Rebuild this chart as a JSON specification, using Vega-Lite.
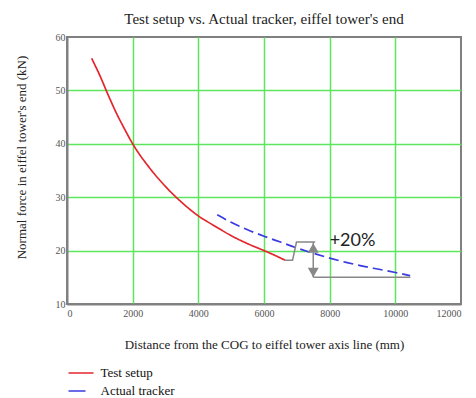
{
  "$schema": "https://vega.github.io/schema/vega-lite/v6.json",
  "autosize": "none",
  "width": 394,
  "height": 267,
  "padding": {"left": 67, "top": 37, "right": 15, "bottom": 94},
  "background": "white",
  "title": {
    "text": "Test setup vs. Actual tracker, eiffel tower's end",
    "font": "Liberation Serif",
    "fontSize": 15,
    "fontWeight": "normal",
    "color": "#222222",
    "anchor": "middle",
    "baseline": "alphabetic",
    "offset": 13,
    "dy": 20
  },
  "config": {
    "view": {"stroke": "#808080", "strokeWidth": 2},
    "axis": {
      "labelFont": "Liberation Serif",
      "labelFontSize": 10,
      "labelColor": "#555555",
      "titleFont": "Liberation Serif",
      "titleFontSize": 13,
      "titleFontWeight": "normal",
      "titleColor": "#222222",
      "domainColor": "#808080",
      "domainWidth": 2,
      "gridColor": "#5de65d",
      "gridWidth": 1.5,
      "ticks": false
    }
  },
  "datasets": {
    "curves": [
      {"series": "Test setup", "d": 750, "f": 56},
      {"series": "Test setup", "d": 1000, "f": 52.8},
      {"series": "Test setup", "d": 1250, "f": 49.2},
      {"series": "Test setup", "d": 1500, "f": 45.8},
      {"series": "Test setup", "d": 1750, "f": 42.8},
      {"series": "Test setup", "d": 2000, "f": 40},
      {"series": "Test setup", "d": 2500, "f": 35.6},
      {"series": "Test setup", "d": 3000, "f": 32},
      {"series": "Test setup", "d": 3500, "f": 29},
      {"series": "Test setup", "d": 4000, "f": 26.5},
      {"series": "Test setup", "d": 4500, "f": 24.6},
      {"series": "Test setup", "d": 5000, "f": 22.8},
      {"series": "Test setup", "d": 5500, "f": 21.3},
      {"series": "Test setup", "d": 6000, "f": 20},
      {"series": "Test setup", "d": 6300, "f": 19.2},
      {"series": "Test setup", "d": 6640, "f": 18.2},
      {"series": "Actual tracker", "d": 4575, "f": 26.7},
      {"series": "Actual tracker", "d": 5000, "f": 25.3},
      {"series": "Actual tracker", "d": 5500, "f": 23.9},
      {"series": "Actual tracker", "d": 6000, "f": 22.7},
      {"series": "Actual tracker", "d": 6500, "f": 21.6},
      {"series": "Actual tracker", "d": 7000, "f": 20.5},
      {"series": "Actual tracker", "d": 7500, "f": 19.5},
      {"series": "Actual tracker", "d": 8000, "f": 18.6},
      {"series": "Actual tracker", "d": 8500, "f": 17.8},
      {"series": "Actual tracker", "d": 9000, "f": 17.1},
      {"series": "Actual tracker", "d": 9500, "f": 16.5},
      {"series": "Actual tracker", "d": 10000, "f": 15.9},
      {"series": "Actual tracker", "d": 10450, "f": 15.3}
    ],
    "annot": [
      {"seg": "bracket", "ord": 1, "d": 6640, "f": 18.2},
      {"seg": "bracket", "ord": 2, "d": 6870, "f": 18.2},
      {"seg": "bracket", "ord": 3, "d": 6990, "f": 21.6},
      {"seg": "bracket", "ord": 4, "d": 7560, "f": 21.6},
      {"seg": "shaft", "ord": 1, "d": 7500, "f": 21.6},
      {"seg": "shaft", "ord": 2, "d": 7500, "f": 15.0},
      {"seg": "base", "ord": 1, "d": 7500, "f": 15.0},
      {"seg": "base", "ord": 2, "d": 10460, "f": 15.0}
    ],
    "heads": [
      {"end": "top", "d": 7500, "f": 20.5},
      {"end": "bottom", "d": 7500, "f": 15.9}
    ],
    "label": [
      {"text": "+20%", "d": 8000, "f": 20.8}
    ]
  },
  "layer": [
    {
      "data": {"name": "curves"},
      "mark": {"type": "line", "strokeWidth": 1.7, "interpolate": "monotone"},
      "encoding": {
        "x": {
          "field": "d",
          "type": "quantitative",
          "scale": {"domain": [0, 12000], "nice": false},
          "axis": {
            "title": "Distance from the COG to eiffel tower axis line (mm)",
            "values": [0, 2000, 4000, 6000, 8000, 10000, 12000],
            "format": "d",
            "labelPadding": 4,
            "titleY": 40,
            "titleBaseline": "middle",
            "gridOpacity": {"condition": {"test": "datum.value == 0 || datum.value == 12000", "value": 0}, "value": 1}
          }
        },
        "y": {
          "field": "f",
          "type": "quantitative",
          "scale": {"domain": [10, 60], "nice": false},
          "axis": {
            "title": "Normal force in eiffel tower's end (kN)",
            "values": [10, 20, 30, 40, 50, 60],
            "labelPadding": 2,
            "titleX": -46,
            "titleY": 120,
            "titleAngle": -90,
            "titleAlign": "center",
            "titleBaseline": "middle",
            "gridOpacity": {"condition": {"test": "datum.value == 10 || datum.value == 60", "value": 0}, "value": 1}
          }
        },
        "color": {
          "field": "series",
          "type": "nominal",
          "scale": {"domain": ["Test setup", "Actual tracker"], "range": ["#e3262b", "#3a3ae0"]},
          "legend": {
            "title": null,
            "orient": "none",
            "legendX": 7,
            "legendY": 329,
            "padding": 0,
            "symbolType": "M-2,0H2",
            "symbolSize": 156,
            "symbolStrokeWidth": 1.5,
            "labelFont": "Liberation Serif",
            "labelFontSize": 13,
            "labelColor": "#111111",
            "labelOffset": 12.5,
            "rowPadding": 4,
            "encode": {
              "symbols": {
                "update": {
                  "strokeDash": [
                    {"test": "datum.value === 'Actual tracker'", "value": [17, 8]},
                    {"value": [1, 0]}
                  ]
                }
              }
            }
          }
        },
        "strokeDash": {
          "condition": {"test": "datum.series === 'Actual tracker'", "value": [10, 5]},
          "value": [1, 0]
        }
      }
    },
    {
      "data": {"name": "annot"},
      "mark": {"type": "line", "color": "#888888", "strokeWidth": 1.5},
      "encoding": {
        "x": {"field": "d", "type": "quantitative"},
        "y": {"field": "f", "type": "quantitative"},
        "detail": {"field": "seg", "type": "nominal"},
        "order": {"field": "ord", "type": "quantitative"}
      }
    },
    {
      "data": {"name": "heads"},
      "mark": {"type": "point", "filled": true, "color": "#888888", "size": 120, "opacity": 1},
      "encoding": {
        "x": {"field": "d", "type": "quantitative"},
        "y": {"field": "f", "type": "quantitative"},
        "shape": {
          "field": "end",
          "type": "nominal",
          "scale": {"domain": ["top", "bottom"], "range": ["triangle-up", "triangle-down"]},
          "legend": null
        }
      }
    },
    {
      "data": {"name": "label"},
      "mark": {"type": "text", "font": "Lato", "fontSize": 18, "color": "#222222", "align": "left", "baseline": "alphabetic"},
      "encoding": {
        "x": {"field": "d", "type": "quantitative"},
        "y": {"field": "f", "type": "quantitative"},
        "text": {"field": "text"}
      }
    }
  ]
}
